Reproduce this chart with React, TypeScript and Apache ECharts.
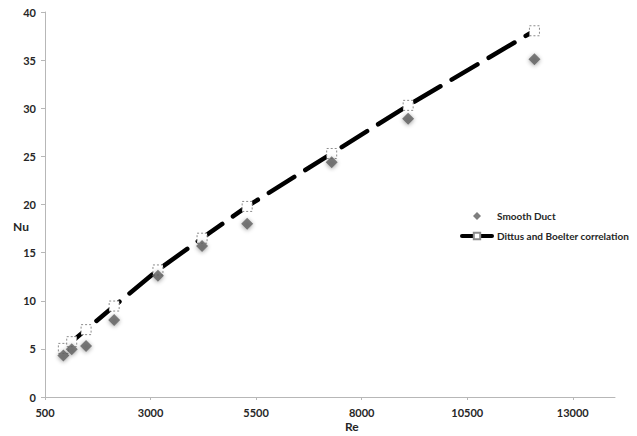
import React, { useEffect, useRef } from "react";
import * as echarts from "echarts";

const reSmooth = [935, 1133, 1473, 2138, 3175, 4220, 5288, 7290, 9101, 12092];
const nuSmooth = [4.3, 4.95, 5.3, 8.0, 12.6, 15.7, 18.0, 24.4, 28.9, 35.1];
const reDittus = [935, 1133, 1473, 2138, 3175, 4220, 5288, 7290, 9101, 12092];
const nuDittus = [5.05, 5.75, 7.0, 9.45, 13.2, 16.5, 19.8, 25.3, 30.3, 38.05];
const seriesNames = ["Smooth Duct", "Dittus and Boelter correlation"];
const xAxisTitle = "Re";
const yAxisTitle = "Nu";

const FONT = "Lato";
const TEXT = "#262626";

export default function App() {
  const ref = useRef<HTMLDivElement>(null);
  useEffect(() => {
    if (!ref.current) return;
    const chart = echarts.init(ref.current, null, { renderer: "svg" });
    chart.setOption({
      animation: false,
      backgroundColor: "#ffffff",
      grid: { left: 45, top: 12, right: 22, bottom: 39, containLabel: false },
      xAxis: {
        type: "value",
        min: 500,
        max: 14000,
        interval: 2500,
        splitLine: { show: false },
        axisLine: { show: true, lineStyle: { color: "#b7b7b7", width: 1 } },
        axisTick: { show: true, length: 3, lineStyle: { color: "#b7b7b7" } },
        axisLabel: {
          showMaxLabel: false,
          margin: 10,
          color: TEXT,
          fontFamily: FONT,
          fontWeight: "bold",
          fontSize: 11,
          formatter: (v: number) => String(v),
        },
      },
      yAxis: {
        type: "value",
        min: 0,
        max: 40,
        interval: 5,
        splitLine: { show: false },
        axisLine: { show: true, lineStyle: { color: "#b7b7b7", width: 1 } },
        axisTick: { show: true, length: 4, lineStyle: { color: "#b7b7b7" } },
        axisLabel: {
          margin: 9,
          color: TEXT,
          fontFamily: FONT,
          fontWeight: "bold",
          fontSize: 11,
        },
      },
      legend: {
        orient: "vertical",
        left: 455,
        top: 206,
        itemWidth: 30,
        itemHeight: 8,
        itemGap: 10,
        textStyle: { color: TEXT, fontFamily: FONT, fontWeight: "bold", fontSize: 10 },
        data: [
          {
            name: seriesNames[0],
            icon: "path://M0,-1L1,0L0,1L-1,0Z",
            itemStyle: { color: "#5e5e5e" },
          },
          {
            name: seriesNames[1],
            lineStyle: { width: 4, type: "solid", color: "#000000" },
          },
        ],
      },
      graphic: [
        {
          type: "text",
          left: 13,
          top: 220,
          style: { text: yAxisTitle, fill: TEXT, font: `bold 12px ${FONT}` },
        },
        {
          type: "text",
          left: 345,
          top: 420,
          style: { text: xAxisTitle, fill: TEXT, font: `bold 12px ${FONT}` },
        },
      ],
      series: [
        {
          name: seriesNames[1],
          type: "line",
          data: reDittus.map((x, i) => [x, nuDittus[i]]),
          symbol: "rect",
          symbolSize: 10,
          showAllSymbol: true,
          itemStyle: {
            color: "#ffffff",
            borderColor: "#8c8c8c",
            borderWidth: 1,
            borderType: [2, 2],
          },
          lineStyle: {
            color: "#000000",
            width: 4.5,
            type: [30, 13],
            cap: "round",
          },
          z: 2,
        },
        {
          name: seriesNames[0],
          type: "scatter",
          data: reSmooth.map((x, i) => [x, nuSmooth[i]]),
          symbol: "diamond",
          symbolSize: 12,
          itemStyle: {
            color: "#5e5e5e",
            shadowBlur: 4,
            shadowColor: "rgba(0,0,0,0.45)",
            shadowOffsetY: 1,
          },
          z: 3,
        },
      ],
    });
    return () => chart.dispose();
  }, []);
  return <div ref={ref} style={{ width: 637, height: 436, position: "absolute", left: 0, top: 0 }} />;
}
